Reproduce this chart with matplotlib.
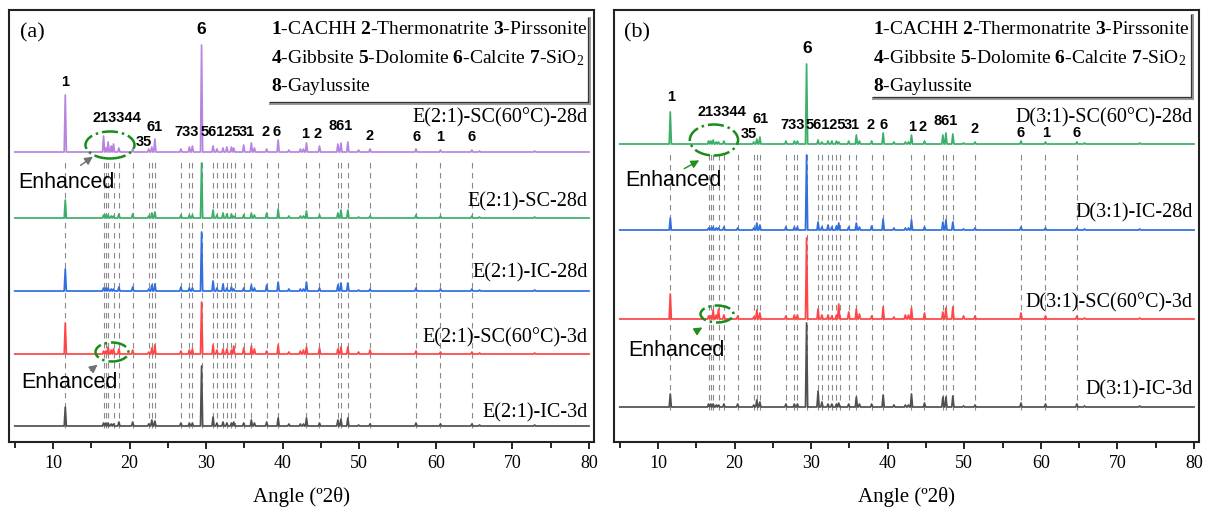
import numpy as np
import matplotlib
matplotlib.use('Agg')
import matplotlib.pyplot as plt
from matplotlib.patches import Ellipse

plt.rcParams['font.family'] = 'Liberation Serif'
plt.rcParams['mathtext.fontset'] = 'custom'
plt.rcParams['mathtext.rm'] = 'Liberation Serif'
plt.rcParams['mathtext.bf'] = 'Liberation Serif:bold'
plt.rcParams['mathtext.it'] = 'Liberation Serif:italic'

# ============================
# data
# ============================
# peak positions (deg 2theta), shared by all patterns
peaks = [11.6, 16.6, 16.9, 17.2, 17.6, 17.9, 18.6, 20.4, 22.5, 22.9,
         23.3, 26.7, 27.8, 28.2, 29.4, 30.9, 31.4, 32.2, 32.7, 33.3,
         33.6, 34.9, 35.9, 36.3, 37.9, 39.4, 40.8, 42.3, 42.7, 43.1,
         44.8, 47.2, 47.6, 48.5, 49.9, 51.4, 57.4, 60.6, 64.7, 65.7, 72.9]

# panel (a) peak heights
e_sc60_28d = [57, 16, 4, 10, 6, 8, 4, 3, 3, 5, 13, 3, 5, 6, 107, 6, 3, 4, 5, 5,
              4, 7, 9, 4, 3, 12, 2, 3, 3, 9, 6, 8, 9, 10, 2, 3, 3, 2, 2, 1, 1]
e_sc_28d = [18, 3, 3, 3, 2, 2, 4, 4, 2, 5, 6, 3, 3, 3, 55, 8, 3, 5, 4, 4,
            2, 3, 5, 3, 5, 9, 2, 2, 2, 7, 3, 5, 8, 8, 1, 2, 3, 2, 2, 1, 1]
e_ic_28d = [22, 3, 3, 3, 2, 2, 4, 4, 2, 6, 7, 4, 3, 3, 59, 10, 3, 7, 3, 4,
            2, 3, 6, 3, 6, 9, 2, 2, 2, 9, 3, 6, 8, 8, 1, 2, 3, 2, 2, 1, 1]
e_sc60_3d = [31, 3, 3, 7, 4, 5, 5, 4, 2, 6, 9, 3, 4, 5, 52, 9, 4, 5, 5, 4,
             8, 6, 8, 5, 3, 9, 2, 3, 4, 7, 6, 5, 7, 7, 2, 4, 3, 2, 2, 1, 1]
e_ic_3d = [19, 3, 3, 3, 2, 2, 4, 4, 2, 6, 5, 3, 3, 3, 60, 9, 3, 4, 3, 3,
           4, 3, 6, 3, 4, 8, 2, 2, 2, 8, 3, 6, 7, 8, 1, 2, 3, 2, 2, 1, 1]

# panel (b) peak heights
d_sc60_28d = [32, 3, 3, 4, 2, 2, 3, 2, 2, 5, 7, 3, 3, 3, 80, 4, 2, 3, 3, 3,
              2, 3, 9, 3, 3, 11, 2, 2, 2, 9, 3, 9, 11, 10, 1, 2, 3, 2, 2, 1, 1]
d_ic_28d = [12, 2, 2, 3, 2, 2, 3, 2, 2, 7, 5, 3, 3, 3, 75, 8, 3, 5, 3, 4,
            7, 3, 7, 3, 4, 11, 2, 2, 2, 10, 3, 8, 10, 8, 1, 2, 3, 2, 2, 1, 1]
d_sc60_3d = [25, 3, 3, 9, 4, 10, 4, 3, 2, 9, 6, 3, 4, 4, 81, 10, 4, 4, 3, 4,
             15, 7, 10, 5, 3, 12, 2, 4, 4, 11, 6, 7, 11, 12, 3, 3, 6, 3, 3, 1, 1]
d_ic_3d = [13, 3, 3, 3, 2, 2, 3, 3, 2, 7, 5, 3, 3, 3, 84, 16, 5, 3, 3, 3,
           4, 3, 10, 3, 3, 12, 2, 2, 2, 13, 4, 10, 10, 11, 1, 2, 4, 3, 3, 1, 1]

names_a = ["E(2:1)-SC(60°C)-28d", "E(2:1)-SC-28d", "E(2:1)-IC-28d",
           "E(2:1)-SC(60°C)-3d", "E(2:1)-IC-3d"]
names_b = ["D(3:1)-SC(60°C)-28d", "D(3:1)-IC-28d",
           "D(3:1)-SC(60°C)-3d", "D(3:1)-IC-3d"]

# reference (dashed) lines
ref_lines = [11.6, 16.6, 16.9, 17.2, 17.9, 18.6, 20.4, 22.5, 22.9, 23.3,
             26.7, 27.8, 28.2, 29.4, 30.9, 31.4, 32.2, 32.7, 33.3, 33.8,
             34.9, 35.9, 37.9, 39.4, 43.1, 44.8, 47.2, 47.6, 48.5, 51.4,
             57.4, 60.6, 64.7]

# phase labels over the top pattern
peak_tags = ["1", "213344", "35", "61", "733", "56125", "31", "2", "6",
             "1", "2", "861", "2", "6", "1", "6"]
tag_x_a = [11.6, 18.4, 21.9, 23.3, 27.5, 31.9, 35.3, 37.7, 39.2,
           42.9, 44.6, 47.6, 51.3, 57.5, 60.6, 64.7]
tag_x_b = [11.65, 18.4, 21.8, 23.4, 27.6, 31.9, 35.3, 37.8, 39.4,
           43.2, 44.6, 47.6, 51.4, 57.3, 60.7, 64.6]

legend_lines = [r"$\mathbf{1}$-CACHH $\mathbf{2}$-Thermonatrite $\mathbf{3}$-Pirssonite",
                r"$\mathbf{4}$-Gibbsite $\mathbf{5}$-Dolomite $\mathbf{6}$-Calcite $\mathbf{7}$-SiO$_2$",
                r"$\mathbf{8}$-Gaylussite"]

colors_a = ['#b784e0', '#3cae6a', '#2f6fe0', '#ff4545', '#505050']
colors_b = ['#3cae6a', '#2f6fe0', '#ff4545', '#505050']


def build_trace(pk, hts, w=0.14):
    x = [5.0]
    y = [0.0]
    for p, h in zip(pk, hts):
        x += [p - w, p, p + w]
        y += [0, h, 0]
    x.append(80.0)
    y.append(0.0)
    return np.array(x), np.array(y)


fig = plt.figure(figsize=(12.11, 5.11), dpi=100)
ax_a = fig.add_axes([9 / 1211, 69 / 511, 585 / 1211, 432 / 511])
ax_b = fig.add_axes([614 / 1211, 69 / 511, 585 / 1211, 432 / 511])

panels = [
    dict(ax=ax_a, tag="(a)", data=[e_sc60_28d, e_sc_28d, e_ic_28d, e_sc60_3d, e_ic_3d],
         offs=[290, 224, 151, 88, 16], names=names_a, name_y=[324, 240, 169, 104, 29],
         colors=colors_a, vspan=(14, 282), tag_x=tag_x_a,
         tag_y=[360, 324, 300, 315, 310, 310, 310, 310, 310, 308, 308, 316, 306, 305, 305, 305],
         six=(29.4, 413), box_bottom=0.785, box_right=0.991, box_left=0.446, box_top=0.981,
         text_x=0.448,
         ell=[(17.44, 297, 6.4, 27), (17.7, 90, 4.3, 19)],
         arr=[((13.3, 275), (15.5, 287)), ((14.6, 70), (16.1, 79))],
         enh=[(11.8, 260), (12.1, 60)], arr_color='#707070'),
    dict(ax=ax_b, tag="(b)", data=[d_sc60_28d, d_ic_28d, d_sc60_3d, d_ic_3d],
         offs=[298, 212, 123, 35], names=names_b, name_y=[324, 229, 139, 52],
         colors=colors_b, vspan=(32, 290), tag_x=tag_x_b,
         tag_y=[345, 330, 308, 323, 317, 317, 317, 317, 317, 315, 315, 321, 313, 309, 309, 309],
         six=(29.45, 394), box_bottom=0.796, box_right=0.988, box_left=0.443, box_top=0.988,
         text_x=0.443,
         ell=[(17.3, 302, 6.3, 31), (17.7, 128, 4.3, 17)],
         arr=[((13.1, 272), (15.7, 283)), ((14.6, 109), (16.1, 116))],
         enh=[(12.0, 262), (12.35, 92)], arr_color='#1f8f1f'),
]

for P in panels:
    ax = P['ax']
    ax.set_xlim(4.25, 80.65)
    ax.set_ylim(0, 432)

    ax.vlines(ref_lines, P['vspan'][0], P['vspan'][1], colors='#8a8a8a',
              linestyles=(0, (5, 4)), linewidth=0.8, zorder=1)

    for hts, off, col in zip(P['data'], P['offs'], P['colors']):
        x, y = build_trace(peaks, hts)
        ax.plot(x, y + off, color=col, lw=1.25, zorder=3)

    for nm, ny in zip(P['names'], P['name_y']):
        ax.text(79.8, ny, nm, ha='right', va='center', fontsize=14.5, zorder=4)

    for t, tx, ty in zip(peak_tags, P['tag_x'], P['tag_y']):
        ax.text(tx, ty, t, ha='center', va='center', fontsize=10.5,
                fontweight='bold', family='Liberation Sans', zorder=4)
    ax.text(P['six'][0], P['six'][1], "6", ha='center', va='center', fontsize=12.5,
            fontweight='bold', family='Liberation Sans', zorder=4)

    # legend box (only bottom / right edges show, with a shadow)
    ax.plot([P['box_left'], P['box_right']], [P['box_bottom'], P['box_bottom']],
            transform=ax.transAxes, color='#9a9a9a', lw=2.2, zorder=4)
    ax.plot([P['box_right'], P['box_right']], [P['box_top'], P['box_bottom']],
            transform=ax.transAxes, color='#9a9a9a', lw=2.2, zorder=4)
    ax.plot([P['box_left'], P['box_right'] - 0.002], [P['box_bottom'] + 0.003, P['box_bottom'] + 0.003],
            transform=ax.transAxes, color='#333333', lw=0.9, zorder=5)
    ax.plot([P['box_right'] - 0.002, P['box_right'] - 0.002], [P['box_top'], P['box_bottom'] + 0.003],
            transform=ax.transAxes, color='#333333', lw=0.9, zorder=5)
    for i, line in enumerate(legend_lines):
        ax.text(P['text_x'], 0.954 - 0.066 * i, line, transform=ax.transAxes,
                ha='left', va='center', fontsize=14, zorder=5)

    ax.text(0.04, 0.947, P['tag'], transform=ax.transAxes, ha='center', va='center',
            fontsize=16)

    for (cx, cy, w, h) in P['ell']:
        ax.add_patch(Ellipse((cx, cy), w, h, fill=False, edgecolor='#1a8c1a',
                             linestyle='-.', lw=1.8, zorder=6))
    for (p0, p1) in P['arr']:
        ax.annotate("", xy=p1, xytext=p0,
                    arrowprops=dict(arrowstyle='-|>', color=P['arr_color'], lw=1.0,
                                    mutation_scale=12), zorder=6)
    for (ex, ey) in P['enh']:
        ax.text(ex, ey, "Enhanced", ha='center', va='center', fontsize=15.5,
                family='Liberation Sans', zorder=6)

    ax.set_xticks([10, 20, 30, 40, 50, 60, 70, 80])
    ax.set_xticks([5, 15, 25, 35, 45, 55, 65, 75], minor=True)
    ax.set_yticks([])
    ax.tick_params(axis='x', which='major', direction='out', length=5, width=1.2,
                   labelsize=13, pad=4)
    ax.tick_params(axis='x', which='minor', direction='out', length=4, width=1.2)
    for s in ax.spines.values():
        s.set_linewidth(1.5)
        s.set_color('#222222')
    ax.set_xlabel("Angle (º2θ)", fontsize=15, labelpad=11)

fig.savefig("out.png", dpi=100)
